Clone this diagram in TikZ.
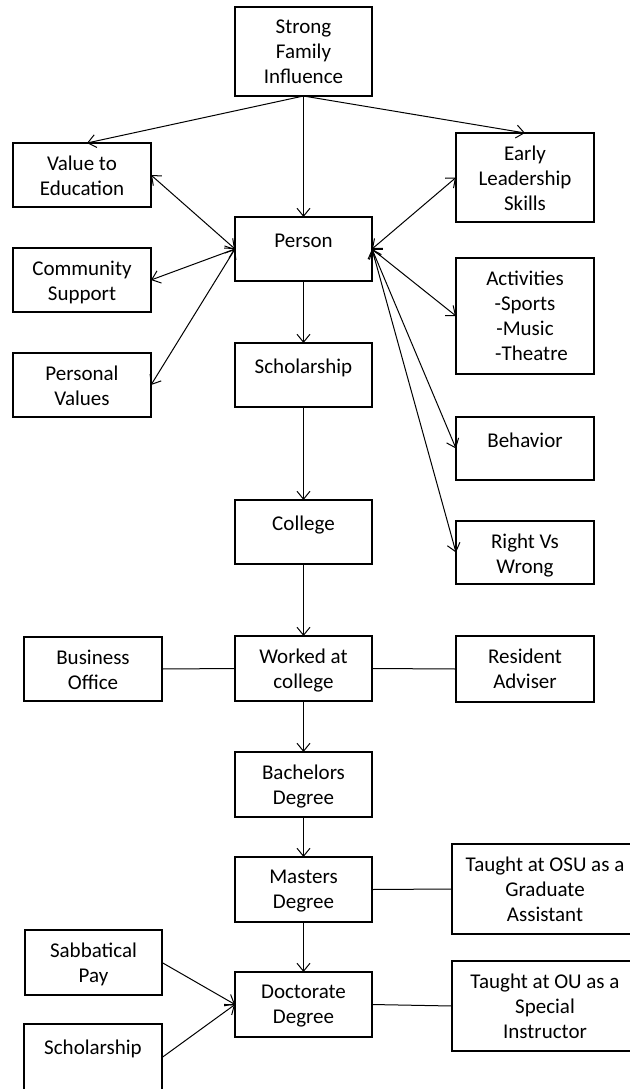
\documentclass[tikz,border=0pt]{standalone}
\usepackage{fontspec}
\setmainfont{Carlito}
\usetikzlibrary{arrows.meta}

\tikzset{
  box/.style={draw, line width=2.2pt, inner sep=0pt, outer sep=0pt, anchor=north west},
  lbl/.style={anchor=north, align=center, inner sep=0pt,
    font=\fontsize{21}{25}\selectfont, execute at begin node=\strut},
  link/.style={line width=1pt},
  arr/.style={link, -{Straight Barb[length=8pt,width=13pt]}},
  darr/.style={link, {Straight Barb[length=8pt,width=13pt]}-{Straight Barb[length=8pt,width=13pt]}},
}

% \dbox{name}{x1}{y1}{x2}{y2}{text}: framed box with its text set near the top
\newcommand\dbox[6]{%
  \node[box, minimum width={(#4-#2)*1pt}, minimum height={(#5-#3)*1pt}] (#1) at (#2,#3) {};
  \node[lbl] (#1-t) at ([yshift=-12.5pt]#1.north) {#6};
}

\begin{document}
\begin{tikzpicture}[x=1pt, y=-1pt]
  \useasboundingbox (0,0) rectangle (629,1089);

  \dbox{strong}{235}{7}{372}{96}{Strong\\Family\\Influence}
  \dbox{value}{13}{143}{151}{207}{Value to\\Education}
  \dbox{early}{456}{133}{594}{222}{Early\\Leadership\\Skills}
  \dbox{person}{235}{217}{372}{281}{Person}
  \dbox{community}{13}{248}{151}{312}{Community\\Support}
  \dbox{activities}{456}{258}{594}{374}{Activities\\-Sports\\-Music\\\hspace*{13pt}-Theatre}
  \dbox{personal}{13}{353}{151}{417}{Personal\\Values}
  \dbox{scholar}{235}{343}{372}{407}{Scholarship}
  \dbox{behavior}{456}{417}{594}{480}{Behavior}
  \dbox{college}{235}{500}{372}{564}{College}
  \dbox{rightwrong}{456}{521}{594}{584}{Right Vs\\Wrong}
  \dbox{business}{24}{637}{162}{701}{Business\\Office}
  \dbox{worked}{235}{636}{372}{701}{Worked at\\college}
  \dbox{resident}{456}{636}{594}{702}{Resident\\Adviser}
  \dbox{bachelors}{235}{752}{372}{817}{Bachelors\\Degree}
  \dbox{masters}{235}{857}{372}{922}{Masters\\Degree}
  \dbox{osu}{452}{844}{638}{934}{Taught at OSU as a\\Graduate\\Assistant}
  \dbox{sabbatical}{25}{930}{162}{995}{Sabbatical\\Pay}
  \dbox{doctorate}{235}{972}{372}{1037}{Doctorate\\Degree}
  \dbox{ou}{452}{961}{638}{1051}{Taught at OU as a\\Special\\Instructor}
  \dbox{scholartwo}{24}{1024}{162}{1091}{Scholarship}

  % family influence
  \draw[arr] (strong.south) -- ([xshift=5pt]value.north);
  \draw[arr] (strong.south) -- (early.north);
  \draw[arr] (strong.south) -- (person.north);

  % influences around the person
  \draw[darr] (value.east) -- (person.west);
  \draw[darr] (community.east) -- (person.west);
  \draw[darr] (personal.east) -- (person.west);
  \draw[darr] (early.west) -- (person.east);
  \draw[darr] (activities.west) -- (person.east);
  \draw[darr] (behavior.west) -- (person.east);
  \draw[darr] (rightwrong.west) -- (person.east);

  % path through school
  \draw[arr] (person.south) -- (scholar.north);
  \draw[arr] (scholar.south) -- (college.north);
  \draw[arr] (college.south) -- (worked.north);
  \draw[link] (business.east) -- (worked.west);
  \draw[link] (worked.east) -- (resident.west);
  \draw[arr] (worked.south) -- (bachelors.north);
  \draw[arr] (bachelors.south) -- (masters.north);
  \draw[link] (masters.east) -- (osu.west);
  \draw[arr] (masters.south) -- (doctorate.north);
  \draw[arr] (sabbatical.east) -- (doctorate.west);
  \draw[arr] (scholartwo.east) -- (doctorate.west);
  \draw[link] (doctorate.east) -- (ou.west);
\end{tikzpicture}
\end{document}
